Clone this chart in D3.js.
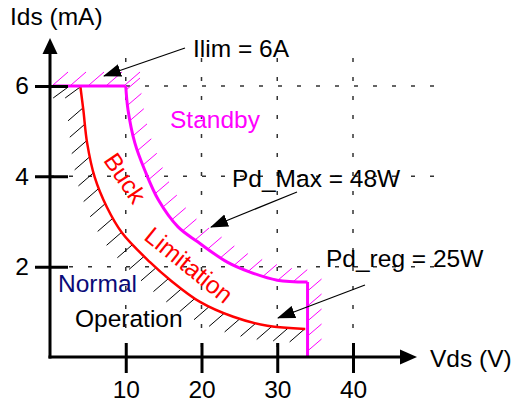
<!DOCTYPE html>
<html>
<head>
<meta charset="utf-8">
<script src="https://cdn.jsdelivr.net/npm/d3@7"></script>
<style>
    body { margin: 0; background: #fff; }
    text { font-family: "Liberation Sans", Arial, sans-serif; }
</style>
</head>
<body>
<div id="chart"></div>
<script>
// tick values
const xTicks = [10, 20, 30, 40];
const yTicks = [2, 4, 6];

// current limit line (Ilim = 6A)
const ilimVds = [0.4, 10];
const ilimIds = [6, 6];

// Pd_Max = 48W boundary
const maxVds = [10, 10.3, 11.2, 12.5, 14.3, 16.9, 19.5, 23.4, 26.4, 30, 34];
const maxIds = [6, 5.47, 4.74, 4.14, 3.48, 2.88, 2.55, 2.10, 1.88, 1.70, 1.66];

// Vds limit at the end of the Pd_Max curve
const vlimVds = [34, 34];
const vlimIds = [1.66, 0];

// Pd_reg = 25W buck limitation curve
const regVds = [4, 4.4, 4.9, 5.9, 7.5, 9.5, 13.2, 15.9, 19.8, 24.2, 28.7, 33.7];
const regIds = [6, 5.47, 4.74, 3.98, 3.32, 2.75, 2.10, 1.70, 1.22, 0.89, 0.69, 0.62];

const width = 515, height = 407;
const magenta = "#ff00ff", red = "#ff0000";
const fontSize = "24.5px";

const x = d3.scaleLinear().domain([0, 40]).range([50, 353]);
const y = d3.scaleLinear().domain([0, 6]).range([357, 86]);

const svg = d3.select("#chart").append("svg")
    .attr("width", width)
    .attr("height", height);

svg.append("defs").append("marker")
    .attr("id", "arrow")
    .attr("markerUnits", "userSpaceOnUse")
    .attr("viewBox", "0 -7 18 14")
    .attr("refX", 17)
    .attr("refY", 0)
    .attr("markerWidth", 18)
    .attr("markerHeight", 14)
    .attr("orient", "auto")
    .append("path")
    .attr("d", "M0,-6.5L18,0L0,6.5Z")
    .attr("fill", "#000");

const zip = (a, b) => a.map((v, i) => [v, b[i]]);

// Grid
const grid = svg.append("g").attr("class", "grid")
    .attr("stroke", "#333")
    .attr("stroke-width", 1.5)
    .attr("stroke-dasharray", "4,15");

grid.selectAll("line.v")
    .data(xTicks)
    .enter()
    .append("line")
    .attr("class", "v")
    .attr("x1", d => x(d))
    .attr("x2", d => x(d))
    .attr("y1", 58)
    .attr("y2", y(0));

grid.selectAll("line.h")
    .data(yTicks)
    .enter()
    .append("line")
    .attr("class", "h")
    .attr("x1", x(0))
    .attr("x2", 434)
    .attr("y1", d => y(d))
    .attr("y2", d => y(d));

const smooth = d3.line()
    .x(d => x(d[0]))
    .y(d => y(d[1]))
    .curve(d3.curveCatmullRom.alpha(0.5));

const straight = d3.line()
    .x(d => x(d[0]))
    .y(d => y(d[1]));

// hatching along a path: short "/" strokes
function hatch(pathNode, start, step, dx0, dy0, dx1, dy1, color) {
    const total = pathNode.getTotalLength();
    const g = svg.append("g").attr("stroke", color).attr("stroke-width", 1);
    for (let l = start; l <= total; l += step) {
        const p = pathNode.getPointAtLength(l);
        g.append("line")
            .attr("x1", p.x + dx0)
            .attr("y1", p.y + dy0)
            .attr("x2", p.x + dx1)
            .attr("y2", p.y + dy1);
    }
}

// invisible helper paths for hatching
const helpers = svg.append("g").attr("fill", "none").attr("stroke", "none");
const hIlim = helpers.append("path").attr("d", straight(zip(ilimVds, ilimIds))).node();
const hMax = helpers.append("path").attr("d", smooth(zip(maxVds, maxIds))).node();
const hVlim = helpers.append("path").attr("d", straight(zip(vlimVds, vlimIds))).node();
const hReg = helpers.append("path").attr("d", smooth(zip(regVds, regIds))).node();
const hTop = helpers.append("path").attr("d", straight([[2.4, 6], [regVds[0], 6]])).node();

hatch(hIlim, 0, 18, 0, -1, 15, -14, magenta);
hatch(hMax, 4, 15.5, 0, 0, 14, -12, magenta);
hatch(hVlim, 9, 15, 0, 0, 14, -12, magenta);
hatch(hReg, 22, 16.5, -15, 13, 0, 0, "#000");
hatch(hTop, 0, 12, -15, 12, 0, 1, "#000");

// Curves
svg.append("path")
    .attr("d", smooth(zip(regVds, regIds)))
    .attr("fill", "none")
    .attr("stroke", red)
    .attr("stroke-width", 2.5);

svg.append("path")
    .attr("d", smooth(zip(maxVds, maxIds)))
    .attr("fill", "none")
    .attr("stroke", magenta)
    .attr("stroke-width", 3);

svg.append("path")
    .attr("d", straight(zip(vlimVds, vlimIds)))
    .attr("fill", "none")
    .attr("stroke", magenta)
    .attr("stroke-width", 3);

svg.append("path")
    .attr("d", straight(zip(ilimVds, ilimIds)))
    .attr("fill", "none")
    .attr("stroke", magenta)
    .attr("stroke-width", 3);

// Axes
const yAxis = d3.axisLeft(y).tickValues(yTicks).tickFormat(d3.format("d")).tickSize(15).tickPadding(6);
const xAxis = d3.axisBottom(x).tickValues(xTicks).tickFormat(d3.format("d")).tickSize(16).tickPadding(8);

const gy = svg.append("g").attr("transform", `translate(${x(0)},0)`).call(yAxis);
const gx = svg.append("g").attr("transform", `translate(0,${y(0)})`).call(xAxis);

[gy, gx].forEach(g => {
    g.select(".domain").remove();
    g.selectAll(".tick line").attr("stroke", "#000").attr("stroke-width", 3);
    g.selectAll(".tick text")
        .attr("fill", "#000")
        .style("font-family", "'Liberation Sans', Arial, sans-serif")
        .style("font-size", fontSize);
});
gy.selectAll(".tick line").attr("x1", 18);
gx.selectAll(".tick line").attr("y1", -14);

svg.append("line")
    .attr("x1", x(0)).attr("y1", y(0) + 1.5)
    .attr("x2", x(0)).attr("y2", 52)
    .attr("stroke", "#000").attr("stroke-width", 3);
svg.append("path")
    .attr("d", `M${x(0)},38L${x(0) - 7.5},54L${x(0) + 7.5},54Z`)
    .attr("fill", "#000");

svg.append("line")
    .attr("x1", x(0) - 1.5).attr("y1", y(0))
    .attr("x2", 402).attr("y2", y(0))
    .attr("stroke", "#000").attr("stroke-width", 3);
svg.append("path")
    .attr("d", `M417,${y(0)}L400,${y(0) - 7.5}L400,${y(0) + 7.5}Z`)
    .attr("fill", "#000");

// Labels
const label = (t, px, py, color) => svg.append("text")
    .text(t)
    .attr("x", px)
    .attr("y", py)
    .attr("fill", color || "#000")
    .style("font-size", fontSize);

label("Ids (mA)", 10, 25);
label("Vds (V)", 430, 367);
label("Ilim = 6A", 193, 57);
label("Standby", 170, 128, magenta);
label("Pd_Max = 48W", 232, 187);
label("Pd_reg = 25W", 326, 267);
label("Normal", 58, 292, "#0a0a78");
label("Operation", 75, 327);

svg.append("text")
    .text("Buck")
    .attr("transform", "translate(125,178) rotate(56)")
    .attr("text-anchor", "middle")
    .attr("dy", "0.35em")
    .attr("fill", red)
    .style("font-size", fontSize);

svg.append("text")
    .text("Limitation")
    .attr("transform", "translate(189,265) rotate(39)")
    .attr("text-anchor", "middle")
    .attr("dy", "0.35em")
    .attr("fill", red)
    .style("font-size", fontSize);

// Callout arrows
const callouts = [
    [185, 48, 104, 76],
    [297, 192, 211, 227],
    [365, 285, 278, 318]
];
svg.selectAll("line.callout")
    .data(callouts)
    .enter()
    .append("line")
    .attr("class", "callout")
    .attr("x1", d => d[0]).attr("y1", d => d[1])
    .attr("x2", d => d[2]).attr("y2", d => d[3])
    .attr("stroke", "#000")
    .attr("stroke-width", 1.2)
    .attr("marker-end", "url(#arrow)");
</script>
</body>
</html>
